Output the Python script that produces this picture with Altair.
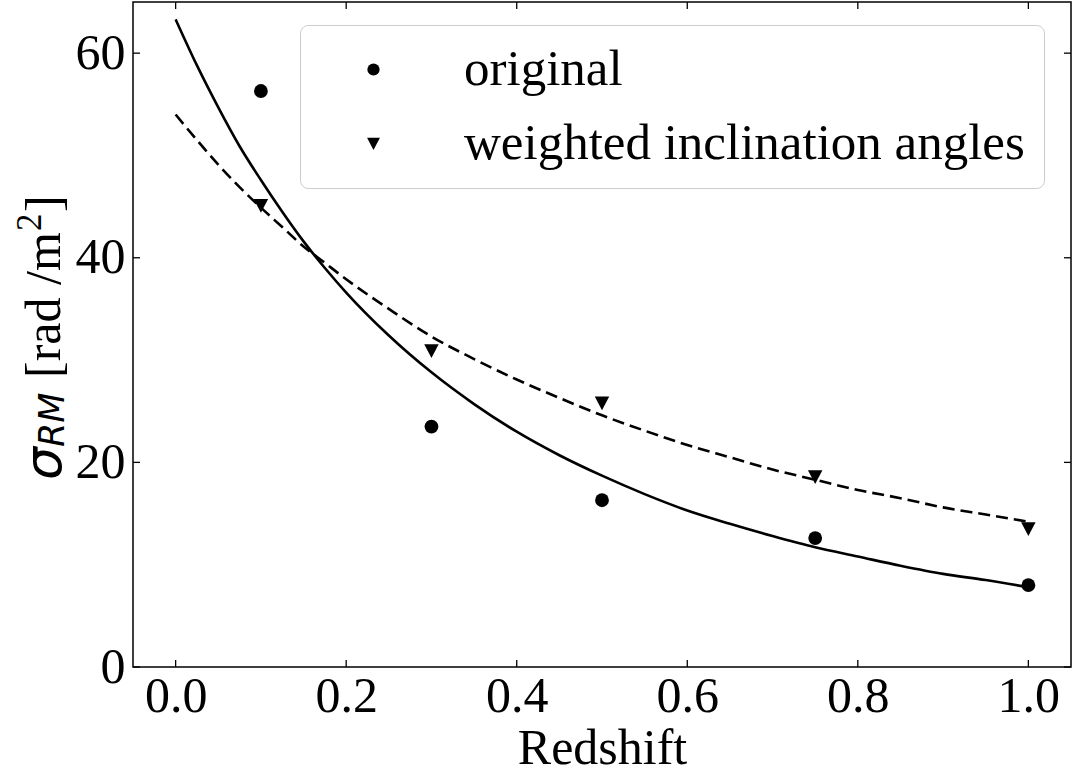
import altair as alt
import pandas as pd

# ---- data ----
z_obs = [0.1, 0.3, 0.5, 0.75, 1.0]
sigma_original = [56.3, 23.5, 16.3, 12.6, 8.0]
sigma_weighted = [45.1, 30.9, 25.8, 18.6, 13.5]

z_fit = [0.0, 0.025, 0.05, 0.075, 0.1, 0.125, 0.15, 0.175, 0.2, 0.25, 0.3, 0.35,
         0.4, 0.45, 0.5, 0.55, 0.6, 0.65, 0.7, 0.75, 0.8, 0.85, 0.9, 0.95, 1.0]
fit_original = [63.3, 58.8, 54.7, 50.9, 47.6, 44.5, 41.6, 39.0, 36.6, 32.4, 28.8, 25.7,
                23.0, 20.7, 18.7, 16.9, 15.3, 14.0, 12.8, 11.7, 10.8, 9.9, 9.1, 8.5, 7.8]
fit_weighted = [54.0, 51.5, 49.1, 46.9, 44.9, 43.0, 41.1, 39.5, 37.9, 35.0, 32.3, 30.1,
                28.1, 26.3, 24.6, 23.1, 21.7, 20.5, 19.3, 18.3, 17.3, 16.5, 15.6, 14.9, 14.2]

series_names = ["original", "weighted inclination angles"]
x_ticks = [0.0, 0.2, 0.4, 0.6, 0.8, 1.0]
y_ticks = [0, 20, 40, 60]

# ---- layout ----
W, H = 938, 665
TICK = 7
SERIF = "Liberation Serif"
FS = 50
TRI_DOWN = "M-1.05,-0.95L1.05,-0.95L0,1.05Z"

x_scale = alt.Scale(domain=[-0.05, 1.05], nice=False, zero=False)
y_scale = alt.Scale(domain=[0, 65], nice=False, zero=False)

pts = pd.DataFrame({
    "z": z_obs * 2,
    "sigma": sigma_original + sigma_weighted,
    "series": [series_names[0]] * len(z_obs) + [series_names[1]] * len(z_obs),
})
fit_o = pd.DataFrame({"z": z_fit, "sigma": fit_original})
fit_w = pd.DataFrame({"z": z_fit, "sigma": fit_weighted})
xt = pd.DataFrame({"v": x_ticks})
yt = pd.DataFrame({"v": y_ticks})

x_axis = alt.Axis(values=x_ticks, format=".1f", ticks=False, tickSize=0, grid=False, domain=False,
                  labelFont=SERIF, labelFontSize=FS, labelColor="black", labelPadding=4,
                  labelBaseline="top", title="Redshift", titleFont=SERIF, titleFontSize=FS,
                  titleFontWeight="normal", titleColor="black", titleBaseline="alphabetic",
                  titleY=96)
y_axis = alt.Axis(values=y_ticks, format="d", ticks=False, tickSize=0, grid=False, domain=False,
                  labelFont=SERIF, labelFontSize=FS, labelColor="black", labelPadding=8,
                  title=None)

line_o = alt.Chart(fit_o).mark_line(color="black", strokeWidth=2.6, interpolate="monotone").encode(
    x=alt.X("z:Q", scale=x_scale, axis=x_axis),
    y=alt.Y("sigma:Q", scale=y_scale, axis=y_axis),
)
line_w = alt.Chart(fit_w).mark_line(color="black", strokeWidth=2.6, strokeDash=[12, 6],
                                    interpolate="monotone").encode(
    x=alt.X("z:Q", scale=x_scale),
    y=alt.Y("sigma:Q", scale=y_scale),
)
points = alt.Chart(pts).mark_point(filled=True, color="black", opacity=1, size=190).encode(
    x=alt.X("z:Q", scale=x_scale),
    y=alt.Y("sigma:Q", scale=y_scale),
    shape=alt.Shape("series:N",
                    scale=alt.Scale(domain=series_names, range=["circle", TRI_DOWN]),
                    legend=alt.Legend(title=None, orient="none", legendX=167, legendY=23,
                                      labelFont=SERIF, labelFontSize=51, labelColor="black",
                                      labelLimit=1000, labelOffset=65, symbolOffset=29,
                                      symbolSize=150, symbolFillColor="black",
                                      symbolStrokeColor="black", symbolStrokeWidth=0,
                                      padding=19, rowPadding=22, cornerRadius=8,
                                      fillColor="rgba(255,255,255,0.8)", strokeColor="#cccccc")),
)

# inward ticks on all four sides
tick_style = dict(color="black", strokeWidth=1.3)
t_bottom = alt.Chart(xt).mark_rule(**tick_style).encode(
    x=alt.X("v:Q", scale=x_scale), y=alt.value(H), y2=alt.value(H - TICK))
t_top = alt.Chart(xt).mark_rule(**tick_style).encode(
    x=alt.X("v:Q", scale=x_scale), y=alt.value(0), y2=alt.value(TICK))
t_left = alt.Chart(yt).mark_rule(**tick_style).encode(
    y=alt.Y("v:Q", scale=y_scale), x=alt.value(0), x2=alt.value(TICK))
t_right = alt.Chart(yt).mark_rule(**tick_style).encode(
    y=alt.Y("v:Q", scale=y_scale), x=alt.value(W), x2=alt.value(W - TICK))

# y-axis title: sigma_RM [rad /m^2]
one = pd.DataFrame({"a": [0]})
rot = dict(angle=270, align="left", baseline="alphabetic", color="black")
t_sigma = alt.Chart(one).mark_text(text="σ", font="DejaVu Sans", fontStyle="italic", fontSize=52,
                                   **rot).encode(x=alt.value(-72), y=alt.value(478))
t_rm = alt.Chart(one).mark_text(text="RM", font="DejaVu Sans", fontStyle="italic", fontSize=35,
                                **rot).encode(x=alt.value(-69), y=alt.value(445))
t_unit = alt.Chart(one).mark_text(text="[rad /m", font=SERIF, fontSize=FS,
                                  **rot).encode(x=alt.value(-73), y=alt.value(376))
t_sup = alt.Chart(one).mark_text(text="2", font=SERIF, fontSize=35,
                                 **rot).encode(x=alt.value(-92), y=alt.value(229))
t_close = alt.Chart(one).mark_text(text="]", font=SERIF, fontSize=FS,
                                   **rot).encode(x=alt.value(-73), y=alt.value(210))

chart = alt.layer(
    line_o, line_w, points, t_bottom, t_top, t_left, t_right,
    t_sigma, t_rm, t_unit, t_sup, t_close
).properties(
    width=W, height=H,
    autosize=alt.AutoSizeParams(type="none"),
    padding={"left": 133, "top": 2, "right": 2, "bottom": 109},
    background="white",
).configure_view(stroke="black", strokeWidth=1.5)

chart.save("out.html", embed_options={"renderer": "svg", "actions": False})
